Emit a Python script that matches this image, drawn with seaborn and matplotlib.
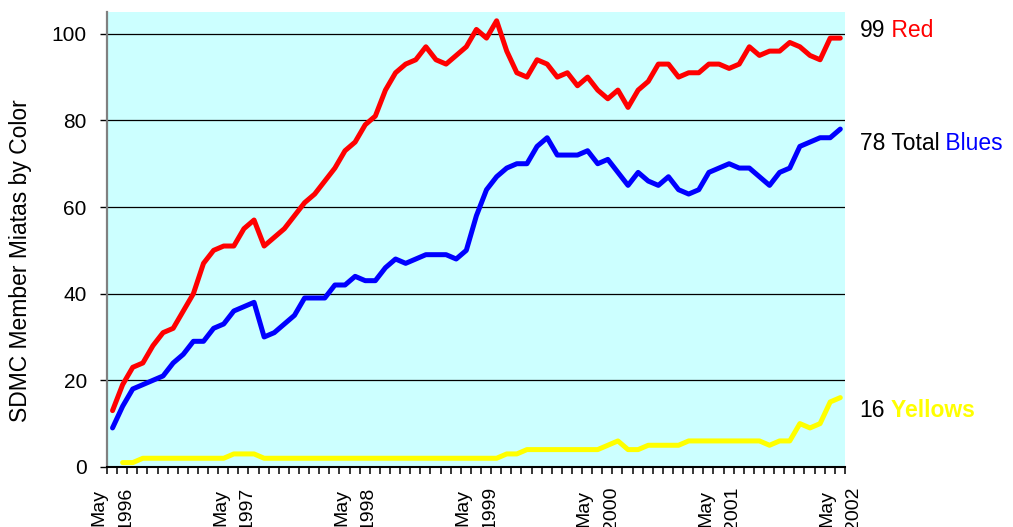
import numpy as np
import pandas as pd
import matplotlib
matplotlib.use("Agg")
import matplotlib.pyplot as plt
import seaborn as sns

# Datos mensuales, mayo 1996 - mayo 2002
red = [13, 19, 23, 24, 28, 31, 32, 36, 40, 47, 50, 51, 51,
       55, 57, 51, 53, 55, 58, 61, 63, 66, 69, 73, 75, 79,
       81, 87, 91, 93, 94, 97, 94, 93, 95, 97, 101, 99, 103,
       96, 91, 90, 94, 93, 90, 91, 88, 90, 87, 85, 87, 83,
       87, 89, 93, 93, 90, 91, 91, 93, 93, 92, 93, 97, 95,
       96, 96, 98, 97, 95, 94, 99, 99]

blue = [9, 14, 18, 19, 20, 21, 24, 26, 29, 29, 32, 33, 36,
        37, 38, 30, 31, 33, 35, 39, 39, 39, 42, 42, 44, 43,
        43, 46, 48, 47, 48, 49, 49, 49, 48, 50, 58, 64, 67,
        69, 70, 70, 74, 76, 72, 72, 72, 73, 70, 71, 68, 65,
        68, 66, 65, 67, 64, 63, 64, 68, 69, 70, 69, 69, 67,
        65, 68, 69, 74, 75, 76, 76, 78]

yellow = [np.nan, 1, 1, 2, 2, 2, 2, 2, 2, 2, 2, 2, 3,
          3, 3, 2, 2, 2, 2, 2, 2, 2, 2, 2, 2, 2,
          2, 2, 2, 2, 2, 2, 2, 2, 2, 2, 2, 2, 2,
          3, 3, 4, 4, 4, 4, 4, 4, 4, 4, 5, 6, 4,
          4, 5, 5, 5, 5, 6, 6, 6, 6, 6, 6, 6, 6,
          5, 6, 6, 10, 9, 10, 15, 16]

tick_labels = ["May\n1996", "May\n1997", "May\n1998", "May\n1999",
               "May\n2000", "May\n2001", "May\n2002"]

series_names = ["Red", "Total Blues", "Yellows"]
colores = {"Red": "#FF0000", "Total Blues": "#0000FF", "Yellows": "#FFFF00"}

n = len(red)
meses = np.arange(n)
df = pd.DataFrame({
    "mes": np.concatenate([meses, meses, meses]),
    "valor": red + blue + yellow,
    "serie": np.repeat(series_names, n),
})

plt.rcParams["font.family"] = ["Liberation Sans", "DejaVu Sans"]

fig, ax = plt.subplots(figsize=(10.13, 5.27), dpi=100)
fig.subplots_adjust(left=0.1056, right=0.834, bottom=0.114, top=0.977)
ax.set_facecolor("#CCFFFF")

sns.lineplot(data=df, x="mes", y="valor", hue="serie", palette=colores,
             hue_order=series_names, linewidth=3.6, legend=False, ax=ax,
             estimator=None, sort=False,
             solid_capstyle="round", solid_joinstyle="round")

ax.set_xlim(-0.55, n - 0.55)
ax.set_ylim(0, 105)

ax.yaxis.grid(True, color="black", linewidth=0.9)
ax.set_axisbelow(True)

ax.spines["top"].set_visible(False)
ax.spines["right"].set_visible(False)
ax.spines["left"].set_color("#808080")
ax.spines["left"].set_linewidth(1.6)
ax.spines["bottom"].set_color("black")
ax.spines["bottom"].set_linewidth(1.5)

ax.set_yticks([0, 20, 40, 60, 80, 100])
ax.tick_params(axis="y", labelsize=15, length=5, width=1, color="black", pad=9.5)

ax.set_xticks(meses[::12])
ax.set_xticklabels(tick_labels, rotation=90, fontsize=14, linespacing=1.75)
ax.set_xticks(np.arange(n + 1) - 0.55, minor=True)
ax.tick_params(axis="x", which="major", length=0, pad=14)
ax.tick_params(axis="x", which="minor", length=5, width=1.1, color="black")

ax.set_xlabel("")
ax.set_ylabel("SDMC Member Miatas by Color", fontsize=16.5)
ax.yaxis.set_label_coords(-0.102, 0.453)

# Etiquetas a la derecha
etiquetas = [("99", " Red", 100.8, "#FF0000", "normal"),
             ("78 Total", " Blues", 74.7, "#0000FF", "normal"),
             ("16", " Yellows", 13.1, "#FFFF00", "bold")]
for num, nombre, yv, col, peso in etiquetas:
    t = ax.text(1.02, yv, num, transform=ax.get_yaxis_transform(),
                fontsize=16.5, color="black", va="center", ha="left", clip_on=False)
    ax.annotate(nombre, xy=(1, 0), xycoords=t, fontsize=16.5, color=col,
                fontweight=peso, va="bottom", ha="left")

fig.savefig("out.png", dpi=100)
